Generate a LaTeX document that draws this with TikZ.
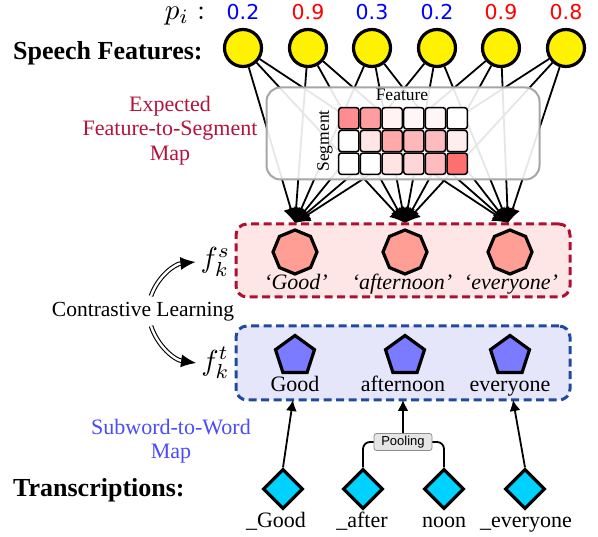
\documentclass[tikz,border=0pt]{standalone}
\usepackage{fontspec}
\setmainfont{Liberation Serif}
\newfontfamily\valfont{DejaVu Sans}
\newfontfamily\poolfont{Liberation Sans}
\usetikzlibrary{shapes.geometric,arrows.meta}
\definecolor{crim}{HTML}{B5123E}
\definecolor{bluetxt}{HTML}{4A4AFF}
\definecolor{redfill}{HTML}{FFE6E6}
\definecolor{redline}{HTML}{B0102F}
\definecolor{bluefill}{HTML}{E6E6FB}
\definecolor{blueline}{HTML}{1F4A9F}
\definecolor{yel}{HTML}{FFF200}
\definecolor{cya}{HTML}{00D2FF}
\definecolor{octf}{HTML}{FF9E94}
\definecolor{penf}{HTML}{7B7BFF}
\tikzset{
  fsz/.style={font=\fontsize{#1}{#1}\selectfont},
  feat/.style={circle,draw=black,line width=3.2pt,fill=yel,minimum size=37pt,inner sep=0pt},
  octa/.style={regular polygon,regular polygon sides=8,shape border rotate=22.5,draw=black,line width=3.2pt,fill=octf,minimum size=44pt,inner sep=0pt},
  penta/.style={regular polygon,regular polygon sides=5,draw=black,line width=3.2pt,fill=penf,minimum size=41pt,inner sep=0pt},
  diam/.style={diamond,draw=black,line width=3.2pt,fill=cya,minimum size=40pt,inner sep=0pt},
  val/.style={font=\valfont\fontsize{20.5}{20.5}\selectfont},
  conn/.style={line width=1.8pt,-{Latex[length=15pt,width=15pt]}},
  cellbox/.style={rectangle,rounded corners=2.5pt,draw=black,line width=1.5pt,minimum width=20.2pt,minimum height=21.2pt,inner sep=0pt},
  dbl/.style={double=white,draw=black,line width=1.1pt,double distance=2.4pt,-{Latex[length=15pt,width=13pt]}},
  grp/.style={rounded corners=11pt,line width=3pt,dash pattern=on 8pt off 4.5pt},
  up/.style={line width=1.8pt,-{Latex[length=11pt,width=11pt]}},
}
\begin{document}
\begin{tikzpicture}[x=1pt,y=-1pt]
\useasboundingbox (0,0) rectangle (598,537);
% feature circles
\foreach \i/\x in {1/243,2/308,3/372,4/437,5/501,6/566}
  \node[feat] (s\i) at (\x,48) {};
\node[inner sep=0pt,anchor=base] (pi) at (185,19.5) {\scalebox{2.9}{$p_i:$}};
\foreach \i/\x/\v/\c in {1/243/0.2/blue,2/308/0.9/red,3/372/0.3/blue,4/437/0.2/blue,5/501/0.9/red,6/566/0.8/red}
  \node[val,text=\c] (v\i) at (\x,12.5) {\v};
\node[anchor=base west,fsz=26,inner sep=0pt] (sf) at (13,60) {\textbf{Speech Features:}};
% arrow targets
\coordinate (a1) at (295,223);
\coordinate (a2) at (405,223);
\coordinate (a3) at (508,223);
\foreach \i in {1,...,6}
  \foreach \j in {1,2,3}
    \draw[conn] (s\i) -- (a\j);
% map box
\node[rectangle,rounded corners=14pt,draw=black!35,line width=2pt,fill=white,fill opacity=.9,minimum width=273pt,minimum height=92pt] (map) at (403,133.5) {};
\node[fsz=17.5,inner sep=0pt] (ftxt) at (402,95) {Feature};
\node[fsz=17.5,rotate=90,inner sep=0pt] (stxt) at (325,141) {Segment};
\definecolor{c11}{HTML}{FF8C90}\definecolor{c12}{HTML}{FF9DA0}\definecolor{c13}{HTML}{FFF3F3}\definecolor{c14}{HTML}{FFF7F7}\definecolor{c15}{HTML}{FFF7F7}\definecolor{c16}{HTML}{FFFFFF}
\definecolor{c21}{HTML}{FFFFFF}\definecolor{c22}{HTML}{FFE6E6}\definecolor{c23}{HTML}{FFA9A9}\definecolor{c24}{HTML}{FFB7BA}\definecolor{c25}{HTML}{FFBCBE}\definecolor{c26}{HTML}{FFEEEE}
\definecolor{c31}{HTML}{FFFFFF}\definecolor{c32}{HTML}{FFFFFF}\definecolor{c33}{HTML}{FFE4E4}\definecolor{c34}{HTML}{FFD6D7}\definecolor{c35}{HTML}{FFBCBE}\definecolor{c36}{HTML}{FF7070}
\foreach \r in {1,2,3}
  \foreach \c in {1,...,6}
    \node[cellbox,fill=c\r\c] (cell\r\c) at ({338+21.67*(\c-.5)},{107+22.67*(\r-.5)}) {};
\node[align=center,text=crim,fsz=22,inner sep=0pt] (mapl) at (170,130.5) {Expected\\[2.5pt]Feature-to-Segment\\[2.5pt]Map};
% red group
\node[rectangle,grp,draw=redline,fill=redfill,minimum width=334pt,minimum height=73pt] (rg) at (403,260.5) {};
\foreach \i/\x in {1/295,2/405,3/510}
  \node[octa] (o\i) at (\x,252) {};
\node[fsz=22,inner sep=0pt,anchor=base] (g1) at (296,290) {\textit{‘Good’}};
\node[fsz=22,inner sep=0pt,anchor=base] (g2) at (402,290) {\textit{‘afternoon’}};
\node[fsz=22,inner sep=0pt,anchor=base] (g3) at (511,290) {\textit{‘everyone’}};
% blue group
\node[rectangle,grp,draw=blueline,fill=bluefill,minimum width=334pt,minimum height=74pt] (bg) at (403,363) {};
\foreach \i/\x in {1/295,2/405,3/510}
  \node[penta] (p\i) at (\x,356) {};
\node[fsz=22,inner sep=0pt,anchor=base] (h1) at (295,392) {Good};
\node[fsz=22,inner sep=0pt,anchor=base] (h2) at (403,392) {afternoon};
\node[fsz=22,inner sep=0pt,anchor=base] (h3) at (510,392) {everyone};
% contrastive
\node[fsz=21.5,inner sep=0pt,anchor=base] (cl) at (143,317) {Contrastive Learning};
\node[inner sep=0pt] (fs) at (215.5,262) {\scalebox{2.9}{$f_k^s$}};
\node[inner sep=0pt] (ft) at (215.5,363) {\scalebox{2.9}{$f_k^t$}};
\coordinate (cu) at (151,296);
\coordinate (cd) at (151,326);
\draw[dbl] (cu) .. controls (158,276) and (175,264) .. ([xshift=-5pt]fs.west);
\draw[dbl] (cd) .. controls (158,347) and (175,360) .. ([xshift=-5pt]ft.west);
% diamonds
\foreach \i/\x in {1/283,2/363,3/444,4/525}
  \node[diam] (d\i) at (\x,489) {};
\node[fsz=22,inner sep=0pt,anchor=base] (w1) at (276,528) {\_Good};
\node[fsz=22,inner sep=0pt,anchor=base] (w2) at (362,528) {\_after};
\node[fsz=22,inner sep=0pt,anchor=base] (w3) at (444,528) {noon};
\node[fsz=22,inner sep=0pt,anchor=base] (w4) at (526,528) {\_everyone};
\node[anchor=base west,fsz=26,inner sep=0pt] (tr) at (13,497) {\textbf{Transcriptions:}};
\node[align=center,text=bluetxt,fsz=22,inner sep=0pt] (subl) at (171,441) {Subword-to-Word\\[2.5pt]Map};
% arrows to words
\coordinate (t1) at (293,400);
\coordinate (t2) at (403,400);
\coordinate (t3) at (513,400);
\node[rectangle,rounded corners=2.5pt,draw=black!45,line width=.8pt,fill=black!10,font=\poolfont\fontsize{13}{13}\selectfont,minimum width=58pt,minimum height=17pt,inner sep=0pt] (pool) at (403,442) {Pooling};
\draw[up] (d1.north) -- (t1);
\draw[up] (pool.north) -- (t2);
\draw[up] (d4.north) -- (t3);
\draw[line width=1.8pt,rounded corners=7pt] (d2.north) |- (pool.west);
\draw[line width=1.8pt,rounded corners=7pt] (d3.north) |- (pool.east);
\end{tikzpicture}
\end{document}
